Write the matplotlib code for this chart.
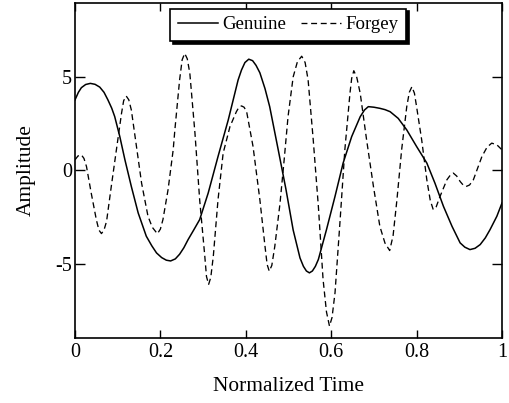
import matplotlib
matplotlib.use("Agg")
import matplotlib.pyplot as plt

# datos (tiempo normalizado, amplitud)
t_genuine = [0.000, 0.008, 0.015, 0.025, 0.036, 0.047, 0.058, 0.068, 0.077, 0.086,
             0.093, 0.105, 0.117, 0.132, 0.148, 0.167, 0.180, 0.191, 0.203, 0.214,
             0.224, 0.235, 0.245, 0.255, 0.265, 0.278, 0.292, 0.312, 0.335, 0.359,
             0.382, 0.390, 0.398, 0.407, 0.416, 0.424, 0.433, 0.445, 0.456, 0.476,
             0.494, 0.511, 0.527, 0.535, 0.542, 0.549, 0.556, 0.563, 0.570, 0.589,
             0.609, 0.628, 0.648, 0.668, 0.678, 0.687, 0.700, 0.714, 0.726, 0.738,
             0.757, 0.777, 0.800, 0.824, 0.843, 0.863, 0.883, 0.902, 0.913, 0.925,
             0.937, 0.949, 0.961, 0.972, 0.988, 1.000]
a_genuine = [3.79, 4.20, 4.45, 4.62, 4.68, 4.63, 4.48, 4.20, 3.80, 3.35,
             2.90, 1.82, 0.57, -0.86, -2.28, -3.53, -4.05, -4.43, -4.68, -4.82,
             -4.86, -4.75, -4.50, -4.15, -3.71, -3.20, -2.64, -1.21, 0.75, 2.72,
             4.86, 5.40, 5.80, 5.98, 5.90, 5.65, 5.25, 4.40, 3.43, 1.11,
             -1.00, -3.20, -4.70, -5.15, -5.40, -5.50, -5.40, -5.15, -4.78, -3.18,
             -1.39, 0.40, 1.82, 2.89, 3.25, 3.43, 3.40, 3.34, 3.27, 3.16,
             2.80, 2.18, 1.29, 0.40, -0.68, -1.93, -3.00, -3.89, -4.12, -4.25,
             -4.18, -3.98, -3.62, -3.18, -2.46, -1.75]

t_forgey = [0.000, 0.007, 0.015, 0.021, 0.027, 0.038, 0.050, 0.056, 0.062, 0.068,
            0.074, 0.085, 0.097, 0.109, 0.114, 0.120, 0.126, 0.132, 0.144, 0.156,
            0.171, 0.181, 0.193, 0.200, 0.206, 0.218, 0.230, 0.234, 0.245, 0.251,
            0.257, 0.263, 0.269, 0.281, 0.292, 0.304, 0.308, 0.313, 0.318, 0.324,
            0.335, 0.347, 0.363, 0.378, 0.384, 0.390, 0.396, 0.402, 0.417, 0.433,
            0.445, 0.450, 0.455, 0.461, 0.468, 0.480, 0.490, 0.499, 0.511, 0.521,
            0.531, 0.539, 0.546, 0.558, 0.570, 0.581, 0.589, 0.596, 0.602, 0.609,
            0.621, 0.632, 0.644, 0.648, 0.653, 0.660, 0.668, 0.683, 0.699, 0.714,
            0.726, 0.737, 0.745, 0.754, 0.765, 0.777, 0.783, 0.789, 0.795, 0.800,
            0.812, 0.824, 0.832, 0.839, 0.846, 0.855, 0.871, 0.879, 0.886, 0.894,
            0.902, 0.909, 0.916, 0.924, 0.933, 0.953, 0.965, 0.976, 0.988, 1.000]
a_forgey = [0.57, 0.78, 0.84, 0.65, 0.21, -1.21, -2.64, -3.20, -3.39, -3.20,
            -2.73, -0.86, 1.11, 3.07, 3.75, 4.00, 3.80, 3.25, 1.29, -0.68,
            -2.46, -3.05, -3.40, -3.15, -2.64, -1.03, 1.11, 2.20, 4.86, 5.95,
            6.29, 6.00, 5.22, 2.00, -1.57, -4.60, -5.70, -6.12, -5.75, -4.60,
            -1.57, 0.93, 2.36, 3.16, 3.40, 3.47, 3.40, 3.16, 1.29, -1.57,
            -4.07, -5.05, -5.41, -5.10, -4.07, -1.80, 0.60, 2.90, 5.03, 5.85,
            6.14, 5.80, 4.86, 1.64, -1.93, -5.85, -7.60, -8.36, -7.90, -6.57,
            -2.64, 1.11, 4.15, 4.95, 5.36, 5.00, 4.15, 1.64, -0.86, -3.00,
            -3.90, -4.30, -3.50, -1.57, 1.11, 3.43, 4.20, 4.50, 4.15, 3.43,
            1.64, -0.50, -1.60, -2.10, -1.95, -1.39, -0.50, -0.25, -0.14, -0.30,
            -0.59, -0.78, -0.86, -0.78, -0.50, 0.75, 1.25, 1.47, 1.38, 1.11]

x_ticks = [0, 0.2, 0.4, 0.6, 0.8, 1]
x_labels = ['0', '0.2', '0.4', '0.6', '0.8', '1']
y_ticks = [-5, 0, 5]
y_labels = ['-5', '0', '5']

plt.rcParams['font.family'] = ['Liberation Serif', 'DejaVu Serif']

fig = plt.figure(figsize=(5.09, 4.03), dpi=100)
ax = fig.add_axes([0.1473, 0.1613, 0.8389, 0.8313])

ax.plot(t_genuine, a_genuine, color='black', lw=1.1, label='Genuine')
ax.plot(t_forgey, a_forgey, color='black', lw=0.95, linestyle=(0, (4.5, 2.8)), label='Forgey')

ax.set_xlim(0, 1)
ax.set_ylim(-9, 9)
ax.set_xticks(x_ticks)
ax.set_xticklabels(x_labels)
ax.set_yticks(y_ticks)
ax.set_yticklabels(y_labels)

# marcas hacia adentro en los cuatro lados
ax.tick_params(axis='x', direction='in', length=6, width=1, top=True, pad=3.5, labelsize=14.5)
ax.tick_params(axis='y', direction='in', length=7, width=1, right=True, pad=2, labelsize=14.5)
for s in ax.spines.values():
    s.set_linewidth(1.2)

ax.set_xlabel('Normalized Time', fontsize=15.4, labelpad=11)
ax.set_ylabel('Amplitude', fontsize=15.4, labelpad=14)

leg = ax.legend(loc='upper center', ncol=2, fontsize=13.6, frameon=True, fancybox=False,
                framealpha=1, edgecolor='black', handlelength=2.1, handletextpad=0.25,
                columnspacing=0.8, borderpad=0.4, borderaxespad=0.3,
                shadow={'color': 'black', 'alpha': 1})
leg.get_frame().set_linewidth(1.2)

fig.savefig('out.png', dpi=100)
